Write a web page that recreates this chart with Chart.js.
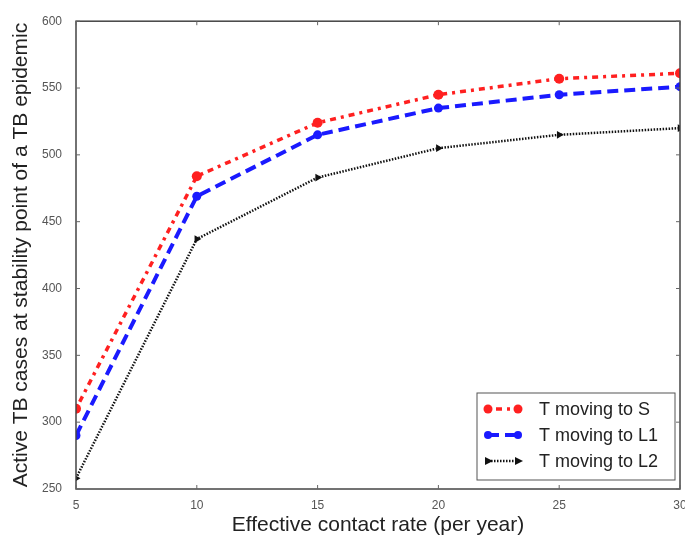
<!DOCTYPE html>
<html>
<head>
<meta charset="utf-8">
<script src="https://cdn.jsdelivr.net/npm/chart.js@4"></script>
<style>
    body { margin: 0; background: #fff; }
    #chart-div { width: 685px; height: 538px; }
</style>
</head>
<body>
<div id="chart-div"><canvas id="myChart" width="685" height="538"></canvas></div>
<script>
let contactRates = [5, 10, 15, 20, 25, 30]
let movingToS = [310, 484, 524, 545, 557, 561]
let movingToL1 = [290, 469, 515, 535, 545, 551]
let movingToL2 = [258, 437, 483, 505, 515, 520]
let xTicks = [5, 10, 15, 20, 25, 30]
let yTicks = [250, 300, 350, 400, 450, 500, 550, 600]
let seriesLabels = ["T moving to S", "T moving to L1", "T moving to L2"]

let toPoints = function (values) {
    return contactRates.map(function (x, i) {
        return { x: x, y: values[i] };
    });
}

let seriesStyles = [
    { color: "#ff2020", dash: [3, 5, 6, 5], width: 3.5, marker: "circle", size: 5 },
    { color: "#1a1aff", dash: [11, 6], width: 4, marker: "circle", size: 4.5 },
    { color: "#111111", dash: [1.5, 1.5], width: 2.5, marker: "triangle", size: 4.5 }
]

let frameAndLegend = {
    id: "frameAndLegend",
    afterDatasetsDraw: function (chart) {
        let ctx = chart.ctx;
        let area = chart.chartArea;
        ctx.save();
        ctx.strokeStyle = "#444";
        ctx.lineWidth = 1.5;
        ctx.strokeRect(area.left, area.top, area.right - area.left, area.bottom - area.top);

        // small inward ticks on all four sides
        ctx.lineWidth = 1;
        ctx.strokeStyle = "#666";
        ctx.beginPath();
        xTicks.forEach(function (v) {
            let px = chart.scales.x.getPixelForValue(v);
            ctx.moveTo(px, area.bottom);
            ctx.lineTo(px, area.bottom - 4);
            ctx.moveTo(px, area.top);
            ctx.lineTo(px, area.top + 4);
        });
        yTicks.forEach(function (v) {
            let py = chart.scales.y.getPixelForValue(v);
            ctx.moveTo(area.left, py);
            ctx.lineTo(area.left + 4, py);
            ctx.moveTo(area.right, py);
            ctx.lineTo(area.right - 4, py);
        });
        ctx.stroke();

        let boxW = 198, boxH = 87;
        let bx = area.right - 5 - boxW;
        let by = area.bottom - 9 - boxH;
        ctx.fillStyle = "#fff";
        ctx.fillRect(bx, by, boxW, boxH);
        ctx.strokeStyle = "#555";
        ctx.lineWidth = 1;
        ctx.strokeRect(bx, by, boxW, boxH);

        ctx.font = "18px 'Liberation Sans', Arial, sans-serif";
        ctx.textBaseline = "middle";
        seriesLabels.forEach(function (label, i) {
            let s = seriesStyles[i];
            let y = by + 16 + i * 26;
            let x1 = bx + 11, x2 = bx + 41;
            ctx.strokeStyle = s.color;
            ctx.lineWidth = s.width;
            ctx.setLineDash(s.dash);
            ctx.beginPath();
            ctx.moveTo(x1, y);
            ctx.lineTo(x2, y);
            ctx.stroke();
            ctx.setLineDash([]);
            [x1, x2].forEach(function (mx) {
                ctx.fillStyle = s.color;
                ctx.beginPath();
                if (s.marker === "circle") {
                    ctx.arc(mx, y, s.size - 0.5, 0, Math.PI * 2);
                } else {
                    ctx.moveTo(mx + 5, y);
                    ctx.lineTo(mx - 3, y - 4);
                    ctx.lineTo(mx - 3, y + 4);
                    ctx.closePath();
                }
                ctx.fill();
            });
            ctx.fillStyle = "#222";
            ctx.fillText(label, bx + 62, y + 1);
        });
        ctx.restore();
    }
}

let makeDataset = function (label, values, s) {
    return {
        label: label,
        data: toPoints(values),
        borderColor: s.color,
        backgroundColor: s.color,
        borderWidth: s.width,
        borderDash: s.dash,
        pointStyle: s.marker,
        pointRotation: s.marker === "triangle" ? 90 : 0,
        pointRadius: s.size,
        pointBorderWidth: 0,
        tension: 0,
        fill: false,
        clip: 0
    }
}

const ctx = document.getElementById("myChart").getContext("2d");
var myChart = new Chart(ctx, {
    type: "line",
    data: {
        datasets: [
            makeDataset(seriesLabels[0], movingToS, seriesStyles[0]),
            makeDataset(seriesLabels[1], movingToL1, seriesStyles[1]),
            makeDataset(seriesLabels[2], movingToL2, seriesStyles[2])
        ]
    },
    options: {
        responsive: false,
        animation: false,
        layout: { padding: { top: 20, right: 5, left: 0, bottom: 0 } },
        plugins: { legend: { display: false }, tooltip: { enabled: false } },
        scales: {
            x: {
                type: "linear",
                min: 5,
                max: 30,
                afterBuildTicks: function (scale) {
                    scale.ticks = xTicks.map(function (v) { return { value: v }; });
                },
                afterFit: function (scale) {
                    scale.height = 49;
                    scale.paddingRight = 0;
                    scale.paddingLeft = 0;
                },
                grid: { display: false, drawTicks: false },
                border: { display: false },
                ticks: {
                    color: "#555",
                    padding: 9,
                    font: { family: "'Liberation Sans', Arial, sans-serif", size: 12 }
                },
                title: {
                    display: true,
                    text: "Effective contact rate (per year)",
                    color: "#222",
                    padding: { top: 0, bottom: 0 },
                    font: { family: "'Liberation Sans', Arial, sans-serif", size: 21 }
                }
            },
            y: {
                type: "linear",
                min: 250,
                max: 600,
                afterBuildTicks: function (scale) {
                    scale.ticks = yTicks.map(function (v) { return { value: v }; });
                },
                afterFit: function (scale) { scale.width = 76; },
                grid: { display: false, drawTicks: false },
                border: { display: false },
                ticks: {
                    color: "#555",
                    padding: 14,
                    font: { family: "'Liberation Sans', Arial, sans-serif", size: 12 }
                },
                title: {
                    display: true,
                    text: "Active TB cases at stability point of a TB epidemic",
                    color: "#222",
                    padding: { top: 9, bottom: 0 },
                    font: { family: "'Liberation Sans', Arial, sans-serif", size: 21 }
                }
            }
        }
    },
    plugins: [frameAndLegend]
});
</script>
</body>
</html>
